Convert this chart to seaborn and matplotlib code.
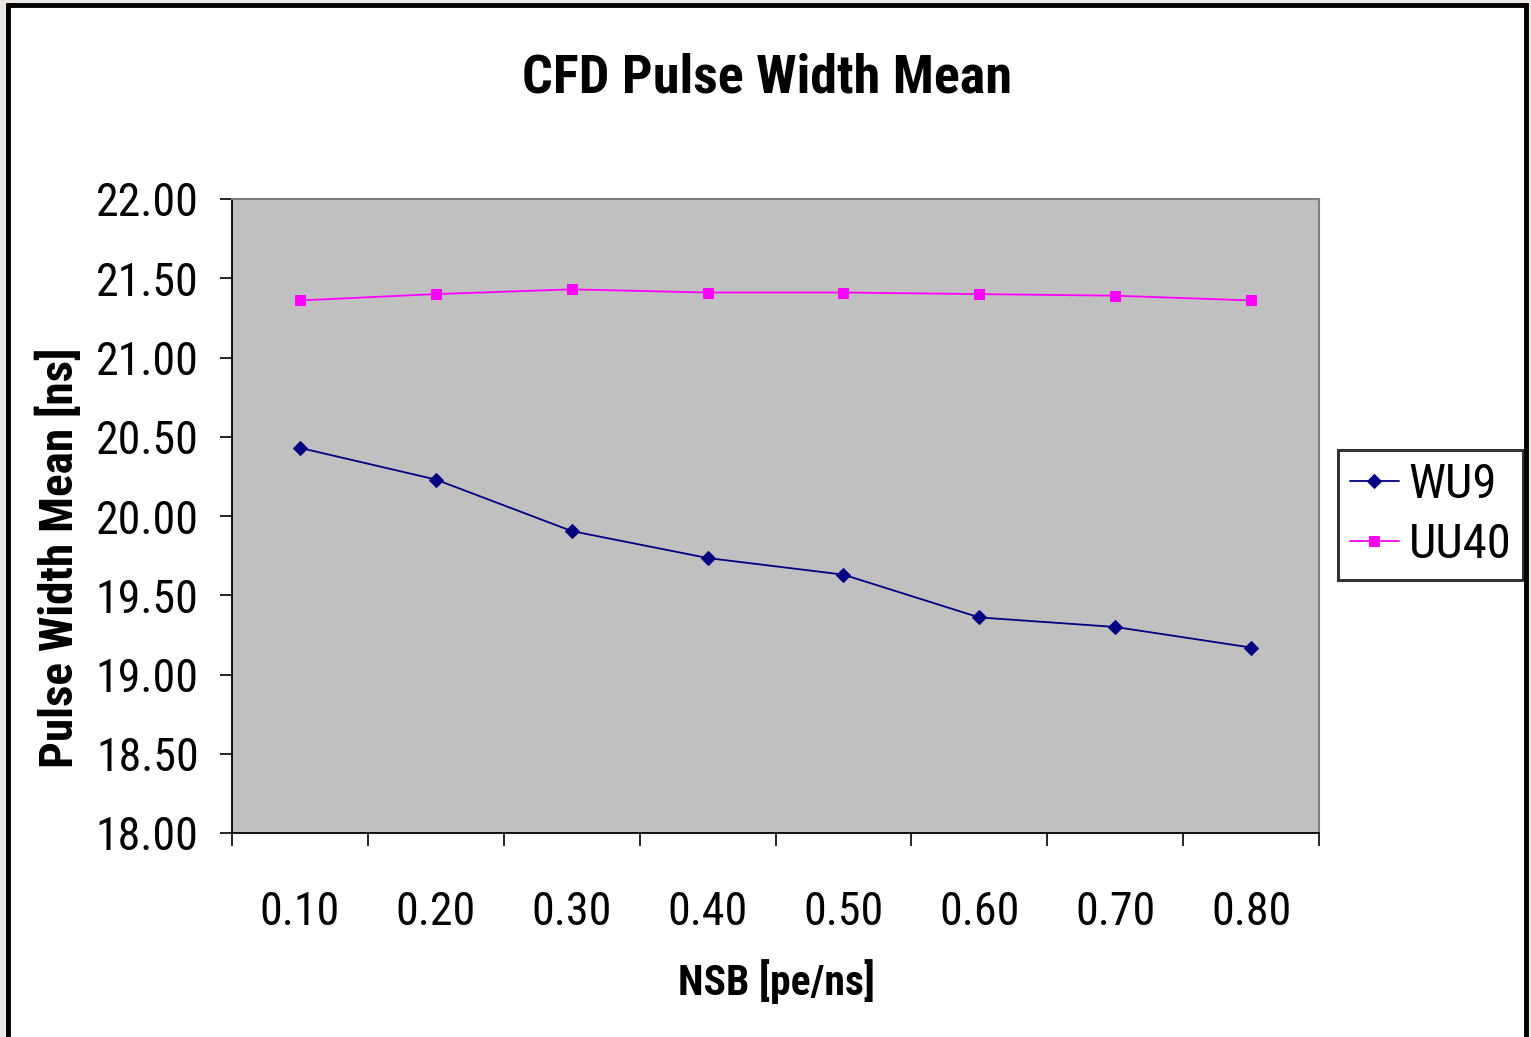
import matplotlib
matplotlib.use("Agg")
import matplotlib.pyplot as plt
import seaborn as sns
import pandas as pd
from matplotlib import font_manager
from matplotlib.patches import Rectangle
from matplotlib.ticker import FixedLocator, FormatStrFormatter

categories = ["0.10", "0.20", "0.30", "0.40", "0.50", "0.60", "0.70", "0.80"]
wu9 = [20.43, 20.23, 19.905, 19.735, 19.63, 19.36, 19.30, 19.17]
uu40 = [21.36, 21.40, 21.43, 21.41, 21.41, 21.40, 21.39, 21.36]
series_names = ["WU9", "UU40"]
y_ticks = [18.0, 18.5, 19.0, 19.5, 20.0, 20.5, 21.0, 21.5, 22.0]

sns.set_style("white")
names = {f.name for f in font_manager.fontManager.ttflist}
fam = "Roboto Condensed" if "Roboto Condensed" in names else "Liberation Sans"
plt.rcParams["font.family"] = [fam, "DejaVu Sans"]
plt.rcParams["text.color"] = "black"
plt.rcParams["xtick.color"] = "black"
plt.rcParams["ytick.color"] = "black"

W, H = 1531, 1037
fig = plt.figure(figsize=(W / 100, H / 100), dpi=100)
fig.patch.set_facecolor("#ECE8E3")
fig.patches.append(Rectangle((8 / W, -0.02), (1526 - 8) / W, 1.02 - 5 / H,
                             transform=fig.transFigure, facecolor="white",
                             edgecolor="black", linewidth=3.5, zorder=-10))

ax = fig.add_axes([232 / W, 1 - 833 / H, (1319 - 232) / W, (833 - 199) / H])
ax.set_facecolor("#C0C0C0")

x = list(range(len(categories)))
df = pd.DataFrame({"x": x + x, "y": wu9 + uu40,
                   "series": [series_names[0]] * len(x) + [series_names[1]] * len(x)})
sns.lineplot(data=df[df.series == "WU9"], x="x", y="y", ax=ax, color="#000080",
             marker="D", markersize=7, markeredgecolor="#000080", linewidth=1.3,
             label="WU9")
sns.lineplot(data=df[df.series == "UU40"], x="x", y="y", ax=ax, color="#FF00FF",
             marker="s", markersize=7, markeredgecolor="#FF00FF", linewidth=1.3,
             label="UU40")

ax.set_xlim(-0.5, len(categories) - 0.5)
ax.set_ylim(18, 22)
ax.set_xticks(x)
ax.set_xticklabels(categories)
ax.xaxis.set_minor_locator(FixedLocator([i - 0.5 for i in range(len(categories) + 1)]))
ax.tick_params(axis="x", which="major", length=0, pad=41, labelsize=33)
ax.tick_params(axis="x", which="minor", length=9, width=1.2, direction="out", color="black", bottom=True)
ax.set_yticks(y_ticks)
ax.yaxis.set_major_formatter(FormatStrFormatter("%.2f"))
ax.tick_params(axis="y", which="major", length=9, width=1.2, direction="out", color="black",
               pad=15, labelsize=33, left=True)
ax.set_xlabel("")
ax.set_ylabel("")

for s in ["top", "right"]:
    ax.spines[s].set_color("#808080")
    ax.spines[s].set_linewidth(1.5)
for s in ["left", "bottom"]:
    ax.spines[s].set_color("#000000")
    ax.spines[s].set_linewidth(1.3)
    ax.spines[s].set_visible(True)

fig.text(767 / W, 1 - 78 / H, "CFD Pulse Width Mean", ha="center", va="center",
         fontsize=39, fontweight="bold")
fig.text(776 / W, 1 - 982 / H, "NSB [pe/ns]", ha="center", va="center",
         fontsize=30, fontweight="bold")
fig.text(59 / W, 1 - 558 / H, "Pulse Width Mean [ns]", ha="center", va="center",
         fontsize=34, fontweight="bold", rotation=90)

ax.get_legend().remove()
leg = fig.legend(loc="center left", bbox_to_anchor=(1338 / W, 1 - 515 / H),
                 bbox_transform=fig.transFigure, fontsize=35, frameon=True,
                 fancybox=False, edgecolor="black", handlelength=1.0,
                 handletextpad=0.2, borderpad=0.25, labelspacing=0.3,
                 borderaxespad=0)
leg.get_frame().set_linewidth(2.2)
leg.get_frame().set_facecolor("white")

fig.savefig("out.png", dpi=100, facecolor=fig.get_facecolor())
